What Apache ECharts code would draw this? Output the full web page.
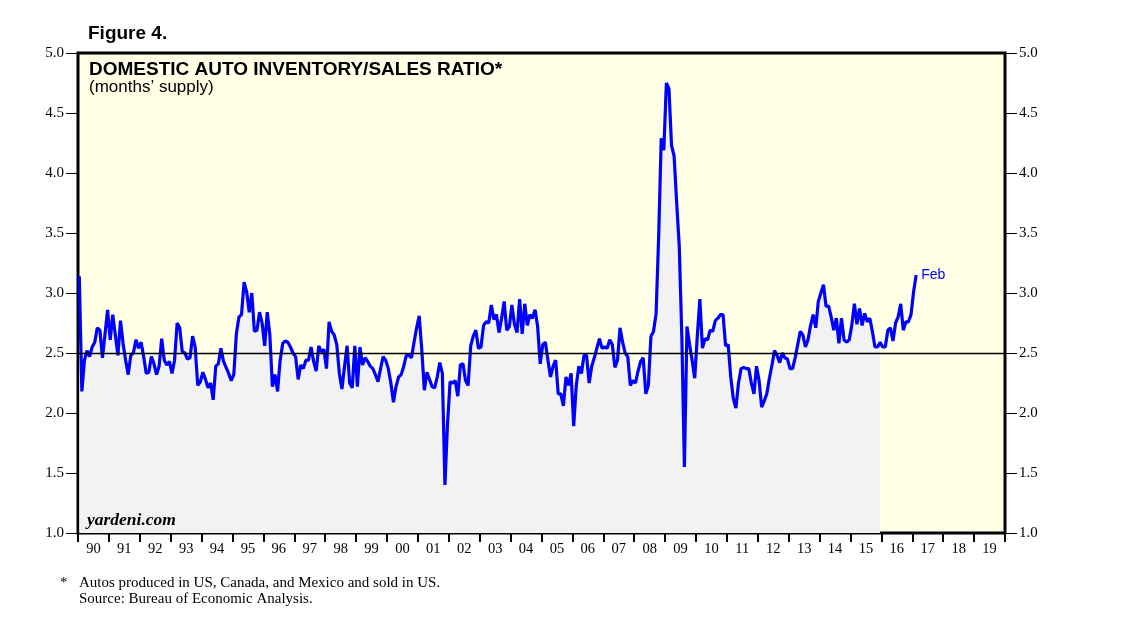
<!DOCTYPE html>
<html>
<head>
<meta charset="utf-8">
<script src="https://cdn.jsdelivr.net/npm/echarts@6/dist/echarts.min.js"></script>
<style>
html,body{margin:0;padding:0;background:#fff;}
#chart{width:1138px;height:621px;}
</style>
</head>
<body>
<div id="chart"></div>
<script>
// Monthly domestic auto inventory/sales ratio, Jan 1990 - Feb 2017 (months' supply)
const startYear = 1990;
const monthlyRatio = [
 3.14,2.18,2.44,2.52,2.47,2.55,2.59,2.71,2.69,2.46,2.66,2.86,
 2.61,2.82,2.65,2.48,2.77,2.58,2.44,2.32,2.48,2.50,2.61,2.54,
 2.59,2.47,2.33,2.34,2.47,2.41,2.32,2.39,2.62,2.44,2.40,2.43,
 2.33,2.44,2.75,2.71,2.51,2.50,2.45,2.46,2.64,2.55,2.23,2.26,
 2.34,2.28,2.21,2.25,2.11,2.39,2.41,2.54,2.43,2.38,2.33,2.27,
 2.32,2.66,2.80,2.82,3.09,3.01,2.84,3.00,2.68,2.69,2.84,2.75,
 2.56,2.84,2.65,2.22,2.32,2.18,2.44,2.58,2.60,2.59,2.55,2.50,
 2.47,2.28,2.40,2.37,2.44,2.44,2.55,2.43,2.35,2.56,2.51,2.53,
 2.37,2.76,2.68,2.65,2.57,2.33,2.20,2.39,2.56,2.25,2.21,2.56,
 2.22,2.55,2.40,2.46,2.43,2.39,2.37,2.32,2.26,2.37,2.47,2.44,
 2.37,2.25,2.09,2.22,2.30,2.32,2.39,2.48,2.48,2.46,2.59,2.71,
 2.81,2.53,2.19,2.34,2.28,2.22,2.21,2.30,2.42,2.33,1.40,1.91,
 2.26,2.25,2.27,2.14,2.40,2.41,2.27,2.23,2.56,2.64,2.69,2.54,
 2.55,2.73,2.76,2.75,2.90,2.78,2.82,2.67,2.79,2.93,2.69,2.72,
 2.90,2.74,2.67,2.95,2.66,2.91,2.73,2.82,2.79,2.86,2.72,2.41,
 2.57,2.59,2.44,2.30,2.39,2.44,2.16,2.16,2.06,2.30,2.23,2.33,
 1.89,2.23,2.39,2.33,2.48,2.48,2.25,2.39,2.46,2.54,2.62,2.54,
 2.55,2.54,2.61,2.57,2.38,2.44,2.71,2.59,2.50,2.47,2.23,2.27,
 2.25,2.35,2.43,2.46,2.16,2.23,2.64,2.68,2.83,3.47,4.29,4.19,
 4.75,4.70,4.23,4.14,3.75,3.39,2.64,1.55,2.72,2.57,2.44,2.29,
 2.64,2.95,2.54,2.62,2.61,2.69,2.68,2.77,2.79,2.82,2.82,2.56,
 2.57,2.30,2.12,2.04,2.25,2.37,2.38,2.37,2.37,2.25,2.16,2.39,
 2.27,2.05,2.10,2.16,2.29,2.40,2.52,2.48,2.42,2.50,2.46,2.45,
 2.37,2.37,2.46,2.57,2.68,2.65,2.55,2.61,2.73,2.82,2.71,2.93,
 3.00,3.07,2.89,2.89,2.80,2.69,2.79,2.58,2.79,2.61,2.59,2.61,
 2.73,2.91,2.74,2.87,2.73,2.83,2.76,2.79,2.68,2.55,2.55,2.59,
 2.55,2.55,2.69,2.71,2.60,2.75,2.80,2.91,2.69,2.76,2.76,2.82,
 3.01,3.15
];
// number of months covered by the shaded (gray) area under the line
const shadedMonths = 312;
const yearLabels = ['90','91','92','93','94','95','96','97','98','99','00','01','02','03','04','05','06','07','08','09','10','11','12','13','14','15','16','17','18','19'];
const yTicks = [1.0,1.5,2.0,2.5,3.0,3.5,4.0,4.5,5.0];
const refLevel = 2.5;
const lastLabel = 'Feb';

const pts = monthlyRatio.map((v,i)=>[startYear + (i+0.5)/12, v]);
const shaded = pts.slice(0, shadedMonths);

const chart = echarts.init(document.getElementById('chart'), null, {renderer:'canvas'});
const serif = '"Liberation Serif","Times New Roman",serif';
const sans = '"Liberation Sans",Arial,Helvetica,sans-serif';
const yAxisCommon = {
  type:'value', min:yTicks[0], max:yTicks[yTicks.length-1], interval:0.5,
  axisLine:{show:false},
  axisTick:{show:true, inside:false, length:12, lineStyle:{color:'#000', width:1}},
  splitLine:{show:false},
  axisLabel:{color:'#000', fontFamily:serif, fontSize:15, margin:14,
    formatter:v=>v.toFixed(1)}
};
chart.setOption({
  animation:false,
  backgroundColor:'#ffffff',
  grid:{left:78, right:133, top:53, bottom:88, show:true,
        backgroundColor:'#ffffe6', borderColor:'#000', borderWidth:3},
  xAxis:[
    {type:'category', data:yearLabels, boundaryGap:true, position:'bottom',
     axisLine:{show:false},
     axisTick:{show:true, alignWithLabel:false, length:9, lineStyle:{color:'#000', width:2}},
     axisLabel:{color:'#000', fontFamily:serif, fontSize:14.5, margin:9, interval:0},
     splitLine:{show:false}},
    {type:'value', min:1990, max:2020, show:false}
  ],
  yAxis:[
    Object.assign({position:'left'}, yAxisCommon),
    Object.assign({position:'right'}, yAxisCommon)
  ],
  series:[
    {type:'line', xAxisIndex:1, yAxisIndex:0, data:shaded, showSymbol:false,
     lineStyle:{width:0, opacity:0}, areaStyle:{color:'#f2f2f2', opacity:1, origin:'start'},
     z:1, silent:true,
     markLine:{symbol:'none', silent:true, label:{show:false},
       lineStyle:{color:'#000', width:1.3, type:'solid'},
       data:[{yAxis:refLevel}]}},
    {type:'line', xAxisIndex:1, yAxisIndex:0, data:pts, showSymbol:false,
     lineStyle:{color:'#0000ff', width:3.2}, z:3,
     endLabel:{show:true, formatter:lastLabel, color:'#0000ff', fontFamily:sans, fontSize:14, distance:5}}
  ],
  graphic:[
    {type:'text', z:100, left:88, top:24, style:{text:'Figure 4.', font:'bold 19px '+sans, fill:'#000'}},
    {type:'text', z:100, left:89, top:60, style:{text:'DOMESTIC AUTO INVENTORY/SALES RATIO*', font:'bold 19px '+sans, fill:'#000'}},
    {type:'text', z:100, left:89, top:79, style:{text:'(months\u2019 supply)', font:'17px '+sans, fill:'#000'}},
    {type:'text', z:100, left:87, top:511, style:{text:'yardeni.com', font:'italic bold 17.5px '+serif, fill:'#000'}},
    {type:'text', z:100, left:60, top:576, style:{text:'*', font:'15px '+serif, fill:'#000'}},
    {type:'text', z:100, left:79, top:576, style:{text:'Autos produced in US, Canada, and Mexico and sold in US.', font:'15px '+serif, fill:'#000'}},
    {type:'text', z:100, left:79, top:592, style:{text:'Source: Bureau of Economic Analysis.', font:'15px '+serif, fill:'#000'}}
  ]
});
</script>
</body>
</html>
